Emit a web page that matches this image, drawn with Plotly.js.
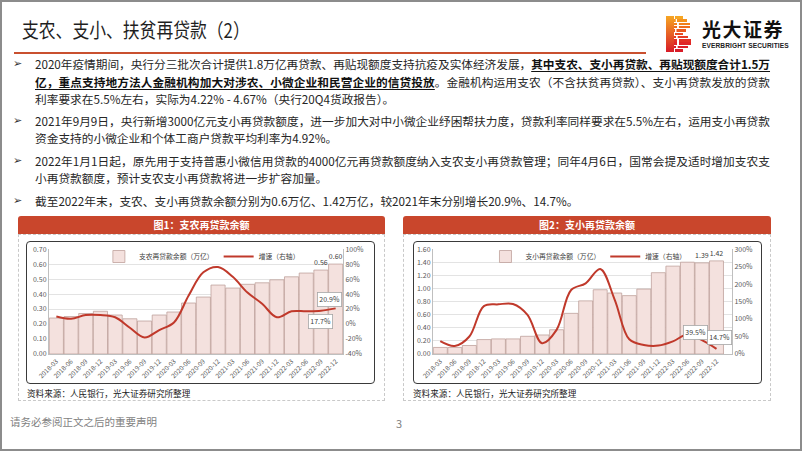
<!DOCTYPE html>
<html><head><meta charset="utf-8">
<script src="https://cdn.plot.ly/plotly-3.0.1.min.js"></script>
<style>
html,body{margin:0;padding:0;background:#fff;}
body{width:802px;height:451px;position:relative;overflow:hidden;font-family:"Noto Sans CJK SC","Noto Sans",sans-serif;}
.frame{position:absolute;left:0;top:0;width:802px;height:451px;box-sizing:border-box;border:2px solid #8c8c8c;pointer-events:none;z-index:10;}
.title{position:absolute;left:22px;top:17px;font-size:20px;color:#1f1f1f;transform:scaleX(0.84);transform-origin:0 0;white-space:nowrap;line-height:26px;}
.rule{position:absolute;left:14px;top:52px;width:632px;height:2px;background:#c9502f;}
.line{position:absolute;left:35px;white-space:nowrap;color:#262626;line-height:16px;font-size:11.6px;}
.line b{color:#111;text-decoration:underline;text-underline-offset:2px;}
.arrow{position:absolute;left:13px;font-size:11px;line-height:16px;color:#333;font-family:"DejaVu Sans",sans-serif;}
.logo-cn{position:absolute;left:702px;top:19px;font-size:19px;font-weight:bold;color:#111;letter-spacing:1.5px;line-height:20px;height:20px;white-space:nowrap;}
.logo-en{position:absolute;left:702px;top:42px;font-size:6.6px;font-weight:bold;color:#222;white-space:nowrap;line-height:7px;height:7px;font-family:"Liberation Sans","DejaVu Sans",sans-serif;letter-spacing:0.1px;}
.stripe{position:absolute;height:3px;}
.panel{position:absolute;box-sizing:border-box;border:1px dashed #c9c9c9;}
.phead{position:absolute;height:18px;background:#c9462c;color:#fff;font-weight:bold;font-size:10px;line-height:18px;text-align:center;border-radius:3px 3px 0 0;}
.cbox{position:absolute;box-sizing:border-box;border:1.5px solid #3a3a3a;border-radius:4px;background:#fff;}
.src{position:absolute;font-size:8.6px;color:#222;white-space:nowrap;line-height:12px;}
.foot{position:absolute;left:10px;top:414px;font-size:10.5px;color:#7f7f7f;white-space:nowrap;}
.pnum{position:absolute;left:396px;top:415px;font-size:11px;color:#7f7f7f;}
.chart{position:absolute;}
</style></head>
<body>
<div class="frame"></div>
<div class="title">支农、支小、扶贫再贷款（2）</div>
<div class="rule"></div>
<div id="logo"></div>
<div class="logo-cn">光大证券</div>
<div class="logo-en">EVERBRIGHT SECURITIES</div>

<div class="arrow" style="top:56px">➢</div>
<div class="line full" style="top:56px">2020年疫情期间，央行分三批次合计提供1.8万亿再贷款、再贴现额度支持抗疫及实体经济发展，<b>其中支农、支小再贷款、再贴现额度合计1.5万</b></div>
<div class="line full" style="top:74px"><b>亿，重点支持地方法人金融机构加大对涉农、小微企业和民营企业的信贷投放</b>。金融机构运用支农（不含扶贫再贷款）、支小再贷款发放的贷款</div>
<div class="line" style="top:91px">利率要求在5.5%左右，实际为4.22% - 4.67%（央行20Q4货政报告）。</div>
<div class="arrow" style="top:113px">➢</div>
<div class="line full" id="ref" style="top:113px">2021年9月9日，央行新增3000亿元支小再贷款额度，进一步加大对中小微企业纾困帮扶力度，贷款利率同样要求在5.5%左右，运用支小再贷款</div>
<div class="line" style="top:130px">资金支持的小微企业和个体工商户贷款平均利率为4.92%。</div>
<div class="arrow" style="top:153px">➢</div>
<div class="line full" style="top:153px">2022年1月1日起，原先用于支持普惠小微信用贷款的4000亿元再贷款额度纳入支农支小再贷款管理；同年4月6日，国常会提及适时增加支农支</div>
<div class="line" style="top:170px">小再贷款额度，预计支农支小再贷款将进一步扩容加量。</div>
<div class="arrow" style="top:193px">➢</div>
<div class="line" style="top:193px">截至2022年末，支农、支小再贷款余额分别为0.6万亿、1.42万亿，较2021年末分别增长20.9%、14.7%。</div>

<div class="panel" style="left:18px;top:234px;width:367px;height:167px;"></div>
<div class="phead" style="left:18px;top:216px;width:367px;">图1：支农再贷款余额</div>
<div class="cbox" style="left:26px;top:241px;width:349px;height:143px;"></div>
<div id="c1" class="chart" style="left:27px;top:242px;"></div>
<div class="src" style="left:27px;top:387px;">资料来源：人民银行，光大证券研究所整理</div>

<div class="panel" style="left:403px;top:234px;width:368px;height:167px;"></div>
<div class="phead" style="left:403px;top:216px;width:368px;">图2：支小再贷款余额</div>
<div class="cbox" style="left:413px;top:241px;width:349px;height:143px;"></div>
<div id="c2" class="chart" style="left:414px;top:242px;"></div>
<div class="src" style="left:413px;top:387px;">资料来源：人民银行，光大证券研究所整理</div>

<div class="foot">请务必参阅正文之后的重要声明</div>
<div class="pnum">3</div>

<script>
// ---- data ----
const quarters = ['2018-03','2018-06','2018-09','2018-12','2019-03','2019-06','2019-09','2019-12',
  '2020-03','2020-06','2020-09','2020-12','2021-03','2021-06','2021-09','2021-12',
  '2022-03','2022-06','2022-09','2022-12'];
const agriBalance = [0.24,0.25,0.27,0.285,0.26,0.235,0.22,0.26,0.28,0.34,0.38,0.46,0.44,0.465,0.475,0.495,0.515,0.54,0.56,0.60];
const agriGrowth  = [10,7,12,12,9,-5,-18,-8,2,38,69,76,63,42,27,9,17,17,17.7,20.9];
const smallBalance = [0.10,0.10,0.13,0.22,0.23,0.23,0.27,0.29,0.37,0.62,0.81,0.98,0.93,0.89,0.99,1.24,1.34,1.40,1.39,1.42];
const smallGrowth  = [37,23,50,137,142,143,112,31,69,183,202,243,155,42,26,24,36,56,39.5,14.7];
const agriLeftTicks  = [0,0.1,0.2,0.3,0.4,0.5,0.6,0.7];
const agriRightTicks = [-40,-20,0,20,40,60,80,100];
const smallLeftTicks  = [0,0.2,0.4,0.6,0.8,1.0,1.2,1.4,1.6];
const smallRightTicks = [0,50,100,150,200,250,300];
const agriBarLabelIdx = [18,19];
const agriLineLabelIdx = [18,19];
const smallBarLabelIdx = [18,19];
const smallLineLabelIdx = [18,19];

// ---- text fitting ----
(function(){
  const ref = document.getElementById('ref');
  const target = 735;
  const w = ref.getBoundingClientRect().width;
  const fs = 11.6 * target / w;
  document.querySelectorAll('.line').forEach(el => el.style.fontSize = fs + 'px');
  document.querySelectorAll('.line.full').forEach(el => {
    const ww = el.getBoundingClientRect().width;
    const n = el.textContent.length;
    el.style.letterSpacing = ((target - ww) / n) + 'px';
  });
})();

// ---- logo stripes ----
(function(){
  const logo = document.getElementById('logo');
  const widths = [17,21,24,24,20,17,22,25,25,22,17];
  const cols = ['#f6a623','#f4931f','#f2801c','#ef6c1e','#ec5a20','#e94a22','#e63c24','#e33026','#e02627','#dc1f27','#d81b27'];
  widths.forEach((w,i)=>{
    const d = document.createElement('div');
    d.className='stripe';
    d.style.left='666px'; d.style.top=(16+i*3.3)+'px'; d.style.width=w+'px';
    d.style.background='linear-gradient(90deg,'+cols[i]+' 0%,'+cols[i]+' 45%,#fff 46%,#fff 52%,'+cols[i]+' 53%)';
    d.style.height='2.6px';
    logo.appendChild(d);
  });
  const solid = document.createElement('div');
  solid.style.cssText='position:absolute;left:666px;top:16px;width:8px;height:36px;background:linear-gradient(180deg,#f6a623,#d81b27);';
  logo.appendChild(solid);
})();

// ---- charts ----
const FONT = '"Noto Sans CJK SC","Noto Sans",sans-serif';
function makeChart(div, bal, gr, barName, leftTicks, rightTicks, barIdx, lineIdx, lineShifts, margin){
  const barText = bal.map((v,i)=> barIdx.includes(i) ? v.toFixed(2) : '');
  const traces = [
    {type:'bar', x:quarters, y:bal, name:barName, yaxis:'y',
     marker:{color:'#f4e1de', line:{color:'#bfa19c', width:0.8}},
     text:barText, textposition:'outside', cliponaxis:false,
     textfont:{size:7, color:'#404040', family:FONT}, hoverinfo:'skip'},
    {type:'scatter', mode:'lines', x:quarters, y:gr, name:'增速（右轴）', yaxis:'y2',
     line:{color:'#c0392b', width:2, shape:'spline', smoothing:1}, hoverinfo:'skip'}
  ];
  const annotations = lineIdx.map((i,k)=>({
    x:quarters[i], y:gr[i], xref:'x', yref:'y2',
    text:gr[i].toFixed(1)+'%', showarrow:false,
    xshift:lineShifts[k][0], yshift:lineShifts[k][1],
    bgcolor:'#fff', bordercolor:'#a6a6a6', borderwidth:0.8, borderpad:1.5,
    font:{size:7, color:'#404040', family:FONT}
  }));
  const lMin = leftTicks[0], lMax = leftTicks[leftTicks.length-1];
  const rMin = rightTicks[0], rMax = rightTicks[rightTicks.length-1];
  const layout = {
    width:347, height:141, margin:Object.assign({autoexpand:false}, margin),
    paper_bgcolor:'rgba(0,0,0,0)', plot_bgcolor:'#fff',
    bargap:0.04, showlegend:true,
    font:{family:FONT, size:7, color:'#595959'},
    xaxis:{type:'category', tickangle:-45, dtick:1, tickfont:{size:6.5, color:'#595959'}, automargin:false,
           showline:true, linecolor:'#bfbfbf', linewidth:1, ticks:'', showgrid:false, fixedrange:true},
    yaxis:{range:[lMin, lMax*1.0008], tickmode:'array', tickvals:leftTicks, ticktext:leftTicks.map(v=>v.toFixed(2)),
           showgrid:true, gridcolor:'#dcdcdc', gridwidth:0.8, automargin:false,
           showline:true, linecolor:'#bfbfbf', zeroline:false, tickfont:{size:7, color:'#595959'}},
    yaxis2:{overlaying:'y', side:'right', range:[rMin, rMax + (rMax-rMin)*0.0008], tickmode:'array', tickvals:rightTicks,
            ticktext:rightTicks.map(v=>v+'%'), showgrid:false, automargin:false,
            showline:true, linecolor:'#bfbfbf', zeroline:false, tickfont:{size:7, color:'#595959'}},
    legend:{orientation:'h', xref:'paper', x:0.52, xanchor:'center', yref:'container', y:1.0, yanchor:'top',
            font:{size:6.8, color:'#404040', family:FONT}, bgcolor:'rgba(0,0,0,0)', itemwidth:30, tracegroupgap:0},
    annotations:annotations
  };
  Plotly.newPlot(div, traces, layout, {staticPlot:true, displayModeBar:false});
}

makeChart('c1', agriBalance, agriGrowth, '支农再贷款余额（万亿）', agriLeftTicks, agriRightTicks,
  agriBarLabelIdx, agriLineLabelIdx, [[0,-11],[-6,9]], {l:22, r:31, t:7, b:29});
makeChart('c2', smallBalance, smallGrowth, '支小再贷款余额（万亿）', smallLeftTicks, smallRightTicks,
  smallBarLabelIdx, smallLineLabelIdx, [[-6,8],[3,11]], {l:19, r:29, t:7, b:29});
</script>
</body></html>
